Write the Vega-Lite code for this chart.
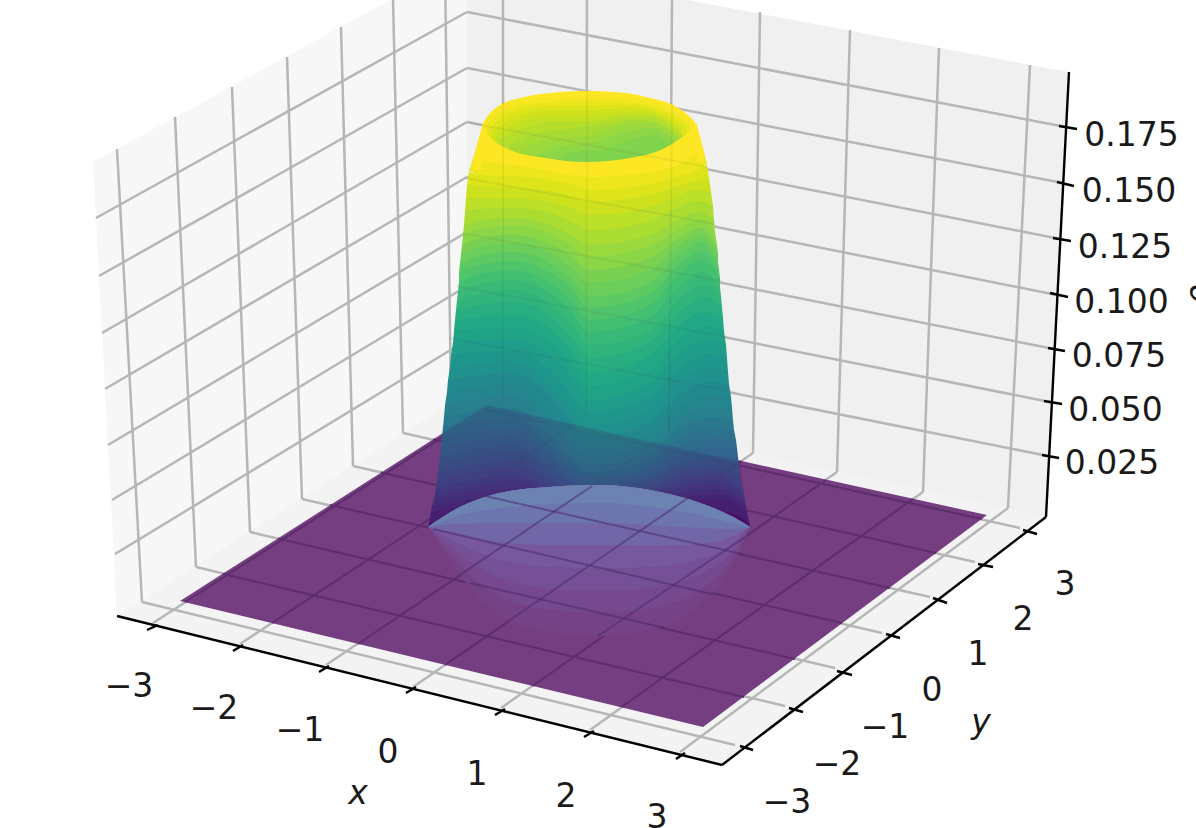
{"$schema":"https://vega.github.io/schema/vega-lite/v6.json","width":1196,"height":828,"padding":0,"autosize":{"type":"none"},"background":"#ffffff","view":{"stroke":null},
"datasets":{
"panes":[{"p":"left","x":93,"y":162,"b":162},{"p":"left","x":117,"y":149,"b":616},{"p":"left","x":467,"y":-42,"b":392},{"p":"right","x":467,"y":-42,"b":392},{"p":"right","x":1046,"y":68,"b":517},{"p":"right","x":1069,"y":72,"b":72},{"p":"floor","x":117,"y":616,"b":616},{"p":"floor","x":467,"y":392,"b":702},{"p":"floor","x":722,"y":447,"b":765},{"p":"floor","x":1046,"y":517,"b":517}],
"grid":[{"x":117,"y":149,"x2":142,"y2":602},{"x":175,"y":117,"x2":196,"y2":567},{"x":232,"y":87,"x2":250,"y2":532},{"x":287,"y":57,"x2":302,"y2":499},{"x":341,"y":27,"x2":353,"y2":466},{"x":393,"y":-1,"x2":403,"y2":433},{"x":445,"y":-30,"x2":451,"y2":402},{"x":503,"y":-36,"x2":503,"y2":398},{"x":587,"y":-20,"x2":586,"y2":416},{"x":672,"y":-4,"x2":669,"y2":434},{"x":760,"y":12,"x2":753,"y2":453},{"x":850,"y":30,"x2":837,"y2":472},{"x":939,"y":48,"x2":923,"y2":492},{"x":1030,"y":65,"x2":1008,"y2":508},{"x":96,"y":218,"x2":467,"y2":12},{"x":99,"y":276,"x2":467,"y2":68},{"x":102,"y":333,"x2":467,"y2":122},{"x":105,"y":389,"x2":467,"y2":177},{"x":108,"y":445,"x2":467,"y2":232},{"x":112,"y":500,"x2":467,"y2":286},{"x":115,"y":554,"x2":467,"y2":340},{"x":467,"y":12,"x2":1066,"y2":127},{"x":467,"y":68,"x2":1063,"y2":183},{"x":467,"y":122,"x2":1060,"y2":239},{"x":467,"y":177,"x2":1057,"y2":295},{"x":467,"y":232,"x2":1054,"y2":349},{"x":467,"y":286,"x2":1050,"y2":402},{"x":467,"y":340,"x2":1048,"y2":456},{"x":142,"y":602,"x2":735,"y2":745},{"x":196,"y":567,"x2":785,"y2":706},{"x":250,"y":532,"x2":835,"y2":668},{"x":302,"y":499,"x2":882,"y2":633},{"x":353,"y":466,"x2":930,"y2":597},{"x":403,"y":433,"x2":975,"y2":562},{"x":451,"y":402,"x2":1020,"y2":528},{"x":153,"y":623,"x2":503,"y2":398},{"x":240,"y":644,"x2":586,"y2":416},{"x":326,"y":665,"x2":669,"y2":434},{"x":413,"y":687,"x2":753,"y2":453},{"x":501,"y":708,"x2":837,"y2":472},{"x":590,"y":730,"x2":923,"y2":492},{"x":680,"y":752,"x2":1008,"y2":508}],
"sheet":[{"x":180,"y":601,"b":601},{"x":487,"y":405,"b":675},{"x":703,"y":452.5,"b":727},{"x":987,"y":515,"b":515}],
"sheetgrid":[{"x":223,"y":574,"x2":744,"y2":697},{"x":278,"y":538.5,"x2":795,"y2":659},{"x":330,"y":505,"x2":842,"y2":623},{"x":381,"y":472.5,"x2":890,"y2":588},{"x":433,"y":439.5,"x2":936,"y2":553},{"x":481,"y":408.6,"x2":982,"y2":519},{"x":185,"y":602,"x2":491,"y2":406},{"x":272,"y":623,"x2":574,"y2":424},{"x":358,"y":644,"x2":657,"y2":442.5},{"x":445,"y":665,"x2":741.5,"y2":461},{"x":532.5,"y":686,"x2":826,"y2":480},{"x":621.5,"y":707,"x2":913,"y2":499}],
"surface":[
{"z":0.19,"x":482,"y":125},{"z":0.19,"x":490,"y":113},{"z":0.19,"x":497,"y":107},{"z":0.19,"x":520,"y":98},{"z":0.19,"x":550,"y":93},{"z":0.19,"x":587,"y":91},{"z":0.19,"x":625,"y":93},{"z":0.19,"x":650,"y":98},{"z":0.19,"x":673,"y":105},{"z":0.19,"x":693,"y":120},{"z":0.19,"x":697,"y":125},
{"z":0.188,"x":484,"y":122},{"z":0.188,"x":505,"y":103},{"z":0.188,"x":550,"y":97},{"z":0.188,"x":587,"y":95},{"z":0.188,"x":630,"y":97},{"z":0.188,"x":660,"y":103},{"z":0.188,"x":692,"y":122},
{"z":0.1843,"x":486,"y":125},{"z":0.1843,"x":510,"y":108},{"z":0.1843,"x":550,"y":102},{"z":0.1843,"x":587,"y":100},{"z":0.1843,"x":630,"y":102},{"z":0.1843,"x":660,"y":108},{"z":0.1843,"x":690,"y":124},
{"z":0.1806,"x":489,"y":128},{"z":0.1806,"x":512,"y":112},{"z":0.1806,"x":550,"y":106},{"z":0.1806,"x":587,"y":105},{"z":0.1806,"x":630,"y":105},{"z":0.1806,"x":658,"y":110},{"z":0.1806,"x":686,"y":126},
{"z":0.1767,"x":492,"y":132},{"z":0.1767,"x":515,"y":117},{"z":0.1767,"x":550,"y":110},{"z":0.1767,"x":587,"y":110},{"z":0.1767,"x":630,"y":108},{"z":0.1767,"x":655,"y":112},{"z":0.1767,"x":682,"y":128},
{"z":0.1729,"x":496,"y":136},{"z":0.1729,"x":520,"y":122},{"z":0.1729,"x":552,"y":116},{"z":0.1729,"x":587,"y":116},{"z":0.1729,"x":628,"y":112},{"z":0.1729,"x":652,"y":114},{"z":0.1729,"x":678,"y":128},
{"z":0.1691,"x":500,"y":140},{"z":0.1691,"x":525,"y":128},{"z":0.1691,"x":555,"y":122},{"z":0.1691,"x":587,"y":122},{"z":0.1691,"x":625,"y":116},{"z":0.1691,"x":650,"y":116},{"z":0.1691,"x":675,"y":128},{"z":0.1691,"x":683,"y":136},
{"z":0.1653,"x":510,"y":145},{"z":0.1653,"x":535,"y":134},{"z":0.1653,"x":570,"y":129},{"z":0.1653,"x":604,"y":124},{"z":0.1653,"x":640,"y":119},{"z":0.1653,"x":660,"y":125},{"z":0.1653,"x":680,"y":138},
{"z":0.1617,"x":520,"y":150},{"z":0.1617,"x":545,"y":140},{"z":0.1617,"x":587,"y":136},{"z":0.1617,"x":620,"y":125},{"z":0.1617,"x":650,"y":122},{"z":0.1617,"x":670,"y":130},{"z":0.1617,"x":680,"y":140},
{"z":0.1577,"x":537,"y":155},{"z":0.1577,"x":560,"y":146},{"z":0.1577,"x":590,"y":143},{"z":0.1577,"x":625,"y":132},{"z":0.1577,"x":652,"y":128},{"z":0.1577,"x":670,"y":137},{"z":0.1577,"x":676,"y":143},
{"z":0.1539,"x":555,"y":160},{"z":0.1539,"x":575,"y":152},{"z":0.1539,"x":600,"y":150},{"z":0.1539,"x":630,"y":140},{"z":0.1539,"x":655,"y":135},{"z":0.1539,"x":670,"y":145},
{"z":0.1899,"x":482,"y":127},{"z":0.1899,"x":490,"y":137},{"z":0.1899,"x":510,"y":150},{"z":0.1899,"x":545,"y":158},{"z":0.1899,"x":587,"y":162},{"z":0.1899,"x":630,"y":158},{"z":0.1899,"x":665,"y":148},{"z":0.1899,"x":685,"y":135},{"z":0.1899,"x":697,"y":125},
{"z":0.1853,"x":473,"y":158},{"z":0.1853,"x":480,"y":160},{"z":0.1853,"x":513,"y":165},{"z":0.1853,"x":550,"y":171},{"z":0.1853,"x":570,"y":175},{"z":0.1853,"x":590,"y":177},{"z":0.1853,"x":650,"y":172},{"z":0.1853,"x":680,"y":164},{"z":0.1853,"x":690,"y":158},{"z":0.1853,"x":704,"y":152},
{"z":0.1805,"x":469,"y":172},{"z":0.1805,"x":480,"y":175},{"z":0.1805,"x":513,"y":176},{"z":0.1805,"x":550,"y":180},{"z":0.1805,"x":570,"y":184},{"z":0.1805,"x":590,"y":190},{"z":0.1805,"x":650,"y":184},{"z":0.1805,"x":680,"y":176},{"z":0.1805,"x":692,"y":172},{"z":0.1805,"x":707,"y":165},
{"z":0.1758,"x":467,"y":185},{"z":0.1758,"x":480,"y":186},{"z":0.1758,"x":513,"y":187},{"z":0.1758,"x":550,"y":191},{"z":0.1758,"x":570,"y":196},{"z":0.1758,"x":590,"y":202},{"z":0.1758,"x":650,"y":195},{"z":0.1758,"x":680,"y":185},{"z":0.1758,"x":694,"y":181},{"z":0.1758,"x":709,"y":178},
{"z":0.171,"x":466,"y":198},{"z":0.171,"x":480,"y":198},{"z":0.171,"x":513,"y":198},{"z":0.171,"x":550,"y":202},{"z":0.171,"x":570,"y":208},{"z":0.171,"x":590,"y":215},{"z":0.171,"x":650,"y":207},{"z":0.171,"x":680,"y":195},{"z":0.171,"x":696,"y":190},{"z":0.171,"x":711,"y":192},
{"z":0.1663,"x":465,"y":211},{"z":0.1663,"x":480,"y":209},{"z":0.1663,"x":513,"y":208},{"z":0.1663,"x":550,"y":213},{"z":0.1663,"x":570,"y":221},{"z":0.1663,"x":590,"y":230},{"z":0.1663,"x":650,"y":221},{"z":0.1663,"x":680,"y":207},{"z":0.1663,"x":698,"y":201},{"z":0.1663,"x":713,"y":206},
{"z":0.1615,"x":464,"y":225},{"z":0.1615,"x":480,"y":220},{"z":0.1615,"x":513,"y":218},{"z":0.1615,"x":550,"y":225},{"z":0.1615,"x":570,"y":234},{"z":0.1615,"x":590,"y":245},{"z":0.1615,"x":650,"y":235},{"z":0.1615,"x":680,"y":219},{"z":0.1615,"x":699,"y":212},{"z":0.1615,"x":714,"y":220},
{"z":0.1568,"x":463,"y":235},{"z":0.1568,"x":480,"y":229},{"z":0.1568,"x":513,"y":226},{"z":0.1568,"x":550,"y":234},{"z":0.1568,"x":570,"y":244},{"z":0.1568,"x":590,"y":257},{"z":0.1568,"x":650,"y":246},{"z":0.1568,"x":680,"y":228},{"z":0.1568,"x":700,"y":220},{"z":0.1568,"x":715,"y":232},
{"z":0.152,"x":462,"y":245},{"z":0.152,"x":480,"y":238},{"z":0.152,"x":513,"y":235},{"z":0.152,"x":550,"y":244},{"z":0.152,"x":570,"y":255},{"z":0.152,"x":590,"y":270},{"z":0.152,"x":650,"y":258},{"z":0.152,"x":680,"y":237},{"z":0.152,"x":701,"y":228},{"z":0.152,"x":717,"y":245},
{"z":0.1473,"x":461,"y":254},{"z":0.1473,"x":480,"y":247},{"z":0.1473,"x":513,"y":243},{"z":0.1473,"x":550,"y":253},{"z":0.1473,"x":570,"y":266},{"z":0.1473,"x":590,"y":283},{"z":0.1473,"x":650,"y":270},{"z":0.1473,"x":680,"y":245},{"z":0.1473,"x":701,"y":235},{"z":0.1473,"x":718,"y":253},
{"z":0.1425,"x":460,"y":263},{"z":0.1425,"x":480,"y":256},{"z":0.1425,"x":513,"y":252},{"z":0.1425,"x":550,"y":263},{"z":0.1425,"x":570,"y":278},{"z":0.1425,"x":590,"y":297},{"z":0.1425,"x":650,"y":283},{"z":0.1425,"x":680,"y":254},{"z":0.1425,"x":702,"y":242},{"z":0.1425,"x":718,"y":262},
{"z":0.1378,"x":459,"y":272},{"z":0.1378,"x":480,"y":265},{"z":0.1378,"x":513,"y":261},{"z":0.1378,"x":550,"y":273},{"z":0.1378,"x":570,"y":288},{"z":0.1378,"x":590,"y":308},{"z":0.1378,"x":650,"y":294},{"z":0.1378,"x":680,"y":263},{"z":0.1378,"x":702,"y":251},{"z":0.1378,"x":719,"y":270},
{"z":0.133,"x":459,"y":282},{"z":0.133,"x":480,"y":274},{"z":0.133,"x":513,"y":270},{"z":0.133,"x":550,"y":283},{"z":0.133,"x":570,"y":299},{"z":0.133,"x":590,"y":320},{"z":0.133,"x":650,"y":305},{"z":0.133,"x":680,"y":273},{"z":0.133,"x":703,"y":260},{"z":0.133,"x":720,"y":278},
{"z":0.1283,"x":458,"y":291},{"z":0.1283,"x":480,"y":284},{"z":0.1283,"x":513,"y":280},{"z":0.1283,"x":550,"y":293},{"z":0.1283,"x":570,"y":310},{"z":0.1283,"x":590,"y":332},{"z":0.1283,"x":650,"y":317},{"z":0.1283,"x":680,"y":286},{"z":0.1283,"x":703,"y":272},{"z":0.1283,"x":720,"y":287},
{"z":0.1235,"x":457,"y":300},{"z":0.1235,"x":480,"y":294},{"z":0.1235,"x":513,"y":290},{"z":0.1235,"x":550,"y":304},{"z":0.1235,"x":570,"y":322},{"z":0.1235,"x":590,"y":345},{"z":0.1235,"x":650,"y":330},{"z":0.1235,"x":680,"y":299},{"z":0.1235,"x":704,"y":285},{"z":0.1235,"x":721,"y":296},
{"z":0.1188,"x":456,"y":310},{"z":0.1188,"x":480,"y":305},{"z":0.1188,"x":513,"y":302},{"z":0.1188,"x":550,"y":316},{"z":0.1188,"x":570,"y":335},{"z":0.1188,"x":590,"y":358},{"z":0.1188,"x":650,"y":342},{"z":0.1188,"x":680,"y":312},{"z":0.1188,"x":705,"y":298},{"z":0.1188,"x":722,"y":307},
{"z":0.114,"x":455,"y":320},{"z":0.114,"x":480,"y":317},{"z":0.114,"x":513,"y":315},{"z":0.114,"x":550,"y":329},{"z":0.114,"x":570,"y":348},{"z":0.114,"x":590,"y":372},{"z":0.114,"x":650,"y":355},{"z":0.114,"x":680,"y":325},{"z":0.114,"x":706,"y":312},{"z":0.114,"x":723,"y":318},
{"z":0.1093,"x":454,"y":331},{"z":0.1093,"x":480,"y":329},{"z":0.1093,"x":513,"y":327},{"z":0.1093,"x":550,"y":342},{"z":0.1093,"x":570,"y":361},{"z":0.1093,"x":590,"y":386},{"z":0.1093,"x":650,"y":369},{"z":0.1093,"x":680,"y":339},{"z":0.1093,"x":707,"y":326},{"z":0.1093,"x":724,"y":331},
{"z":0.1045,"x":453,"y":343},{"z":0.1045,"x":480,"y":341},{"z":0.1045,"x":513,"y":340},{"z":0.1045,"x":550,"y":355},{"z":0.1045,"x":570,"y":375},{"z":0.1045,"x":590,"y":400},{"z":0.1045,"x":650,"y":383},{"z":0.1045,"x":680,"y":353},{"z":0.1045,"x":708,"y":340},{"z":0.1045,"x":726,"y":345},
{"z":0.0998,"x":451,"y":355},{"z":0.0998,"x":480,"y":352},{"z":0.0998,"x":513,"y":351},{"z":0.0998,"x":550,"y":370},{"z":0.0998,"x":570,"y":392},{"z":0.0998,"x":590,"y":412},{"z":0.0998,"x":650,"y":396},{"z":0.0998,"x":680,"y":367},{"z":0.0998,"x":709,"y":354},{"z":0.0998,"x":727,"y":358},
{"z":0.095,"x":450,"y":367},{"z":0.095,"x":480,"y":364},{"z":0.095,"x":513,"y":362},{"z":0.095,"x":550,"y":385},{"z":0.095,"x":570,"y":408},{"z":0.095,"x":590,"y":425},{"z":0.095,"x":650,"y":410},{"z":0.095,"x":680,"y":381},{"z":0.095,"x":710,"y":368},{"z":0.095,"x":728,"y":372},
{"z":0.0903,"x":448,"y":380},{"z":0.0903,"x":480,"y":375},{"z":0.0903,"x":513,"y":373},{"z":0.0903,"x":550,"y":396},{"z":0.0903,"x":570,"y":420},{"z":0.0903,"x":590,"y":437},{"z":0.0903,"x":650,"y":422},{"z":0.0903,"x":680,"y":394},{"z":0.0903,"x":710,"y":382},{"z":0.0903,"x":729,"y":384},
{"z":0.0855,"x":447,"y":392},{"z":0.0855,"x":480,"y":387},{"z":0.0855,"x":513,"y":385},{"z":0.0855,"x":550,"y":416},{"z":0.0855,"x":570,"y":435},{"z":0.0855,"x":590,"y":448},{"z":0.0855,"x":650,"y":434},{"z":0.0855,"x":680,"y":407},{"z":0.0855,"x":711,"y":396},{"z":0.0855,"x":731,"y":397},
{"z":0.0808,"x":445,"y":405},{"z":0.0808,"x":480,"y":399},{"z":0.0808,"x":513,"y":396},{"z":0.0808,"x":550,"y":426},{"z":0.0808,"x":570,"y":445},{"z":0.0808,"x":590,"y":457},{"z":0.0808,"x":650,"y":443},{"z":0.0808,"x":680,"y":417},{"z":0.0808,"x":712,"y":407},{"z":0.0808,"x":732,"y":408},
{"z":0.076,"x":444,"y":417},{"z":0.076,"x":480,"y":411},{"z":0.076,"x":513,"y":408},{"z":0.076,"x":550,"y":436},{"z":0.076,"x":570,"y":454},{"z":0.076,"x":590,"y":465},{"z":0.076,"x":650,"y":452},{"z":0.076,"x":680,"y":428},{"z":0.076,"x":713,"y":418},{"z":0.076,"x":733,"y":420},
{"z":0.0713,"x":443,"y":427},{"z":0.0713,"x":480,"y":421},{"z":0.0713,"x":513,"y":418},{"z":0.0713,"x":550,"y":445},{"z":0.0713,"x":570,"y":461},{"z":0.0713,"x":590,"y":472},{"z":0.0713,"x":650,"y":459},{"z":0.0713,"x":680,"y":437},{"z":0.0713,"x":713,"y":428},{"z":0.0713,"x":734,"y":430},
{"z":0.0665,"x":442,"y":437},{"z":0.0665,"x":480,"y":431},{"z":0.0665,"x":513,"y":428},{"z":0.0665,"x":550,"y":453},{"z":0.0665,"x":570,"y":468},{"z":0.0665,"x":590,"y":478},{"z":0.0665,"x":650,"y":466},{"z":0.0665,"x":680,"y":446},{"z":0.0665,"x":714,"y":438},{"z":0.0665,"x":736,"y":440},
{"z":0.0618,"x":441,"y":447},{"z":0.0618,"x":480,"y":440},{"z":0.0618,"x":513,"y":436},{"z":0.0618,"x":550,"y":459},{"z":0.0618,"x":570,"y":474},{"z":0.0618,"x":590,"y":483},{"z":0.0618,"x":650,"y":471},{"z":0.0618,"x":680,"y":454},{"z":0.0618,"x":715,"y":447},{"z":0.0618,"x":737,"y":448},
{"z":0.057,"x":440,"y":457},{"z":0.057,"x":480,"y":449},{"z":0.057,"x":513,"y":445},{"z":0.057,"x":550,"y":466},{"z":0.057,"x":570,"y":479},{"z":0.057,"x":590,"y":488},{"z":0.057,"x":650,"y":477},{"z":0.057,"x":680,"y":462},{"z":0.057,"x":716,"y":456},{"z":0.057,"x":738,"y":457},
{"z":0.0523,"x":439,"y":465},{"z":0.0523,"x":480,"y":456},{"z":0.0523,"x":513,"y":452},{"z":0.0523,"x":550,"y":472},{"z":0.0523,"x":570,"y":484},{"z":0.0523,"x":590,"y":492},{"z":0.0523,"x":650,"y":481},{"z":0.0523,"x":680,"y":467},{"z":0.0523,"x":716,"y":462},{"z":0.0523,"x":739,"y":465},
{"z":0.0475,"x":438,"y":472},{"z":0.0475,"x":480,"y":464},{"z":0.0475,"x":513,"y":460},{"z":0.0475,"x":550,"y":478},{"z":0.0475,"x":570,"y":490},{"z":0.0475,"x":590,"y":497},{"z":0.0475,"x":650,"y":486},{"z":0.0475,"x":680,"y":473},{"z":0.0475,"x":717,"y":468},{"z":0.0475,"x":740,"y":474},
{"z":0.0428,"x":437,"y":480},{"z":0.0428,"x":480,"y":471},{"z":0.0428,"x":513,"y":467},{"z":0.0428,"x":550,"y":484},{"z":0.0428,"x":570,"y":494},{"z":0.0428,"x":590,"y":501},{"z":0.0428,"x":650,"y":490},{"z":0.0428,"x":680,"y":478},{"z":0.0428,"x":717,"y":473},{"z":0.0428,"x":741,"y":482},
{"z":0.038,"x":436,"y":487},{"z":0.038,"x":480,"y":479},{"z":0.038,"x":513,"y":475},{"z":0.038,"x":550,"y":490},{"z":0.038,"x":570,"y":499},{"z":0.038,"x":590,"y":505},{"z":0.038,"x":650,"y":494},{"z":0.038,"x":680,"y":483},{"z":0.038,"x":718,"y":478},{"z":0.038,"x":743,"y":490},
{"z":0.0333,"x":435,"y":494},{"z":0.0333,"x":480,"y":485},{"z":0.0333,"x":513,"y":481},{"z":0.0333,"x":550,"y":494},{"z":0.0333,"x":570,"y":503},{"z":0.0333,"x":590,"y":508},{"z":0.0333,"x":650,"y":498},{"z":0.0333,"x":680,"y":488},{"z":0.0333,"x":719,"y":483},{"z":0.0333,"x":744,"y":496},
{"z":0.0285,"x":434,"y":500},{"z":0.0285,"x":480,"y":492},{"z":0.0285,"x":513,"y":488},{"z":0.0285,"x":550,"y":500},{"z":0.0285,"x":570,"y":507},{"z":0.0285,"x":590,"y":512},{"z":0.0285,"x":650,"y":503},{"z":0.0285,"x":680,"y":493},{"z":0.0285,"x":720,"y":489},{"z":0.0285,"x":745,"y":502},
{"z":0.0238,"x":432,"y":506},{"z":0.0238,"x":480,"y":498},{"z":0.0238,"x":513,"y":494},{"z":0.0238,"x":550,"y":499},{"z":0.0238,"x":570,"y":506},{"z":0.0238,"x":590,"y":515},{"z":0.0238,"x":650,"y":507},{"z":0.0238,"x":680,"y":498},{"z":0.0238,"x":721,"y":494},{"z":0.0238,"x":746,"y":507},
{"z":0.019,"x":431,"y":512},{"z":0.019,"x":480,"y":504},{"z":0.019,"x":513,"y":500},{"z":0.019,"x":550,"y":505},{"z":0.019,"x":570,"y":511},{"z":0.019,"x":590,"y":519},{"z":0.019,"x":650,"y":512},{"z":0.019,"x":680,"y":503},{"z":0.019,"x":722,"y":499},{"z":0.019,"x":747,"y":512},
{"z":0.0095,"x":429,"y":523},{"z":0.0095,"x":480,"y":518},{"z":0.0095,"x":513,"y":515},{"z":0.0095,"x":550,"y":518},{"z":0.0095,"x":570,"y":521},{"z":0.0095,"x":590,"y":525},{"z":0.0095,"x":650,"y":522},{"z":0.0095,"x":680,"y":515},{"z":0.0095,"x":724,"y":512},{"z":0.0095,"x":749,"y":522}],
"edge":[
{"z":0.1899,"s":0,"x":473,"y":158,"b":170},{"z":0.1899,"s":0,"x":482,"y":127,"b":170},{"z":0.1899,"s":1,"x":697,"y":125,"b":162},{"z":0.1899,"s":1,"x":704,"y":152,"b":162},
{"z":0.1853,"s":0,"x":469,"y":172,"b":172},{"z":0.1853,"s":0,"x":473,"y":158,"b":172},{"z":0.1853,"s":1,"x":704,"y":152,"b":165},{"z":0.1853,"s":1,"x":707,"y":165,"b":165},
{"z":0.1805,"s":0,"x":467,"y":185,"b":185},{"z":0.1805,"s":0,"x":469,"y":172,"b":185},{"z":0.1805,"s":1,"x":707,"y":165,"b":178},{"z":0.1805,"s":1,"x":709,"y":178,"b":178},
{"z":0.1758,"s":0,"x":466,"y":198,"b":198},{"z":0.1758,"s":0,"x":467,"y":185,"b":198},{"z":0.1758,"s":1,"x":709,"y":178,"b":192},{"z":0.1758,"s":1,"x":711,"y":192,"b":192},
{"z":0.171,"s":0,"x":465,"y":211,"b":211},{"z":0.171,"s":0,"x":466,"y":198,"b":211},{"z":0.171,"s":1,"x":711,"y":192,"b":206},{"z":0.171,"s":1,"x":713,"y":206,"b":206},
{"z":0.1663,"s":0,"x":464,"y":225,"b":225},{"z":0.1663,"s":0,"x":465,"y":211,"b":225},{"z":0.1663,"s":1,"x":713,"y":206,"b":220},{"z":0.1663,"s":1,"x":714,"y":220,"b":220},
{"z":0.1615,"s":0,"x":463,"y":235,"b":235},{"z":0.1615,"s":0,"x":464,"y":225,"b":235},{"z":0.1615,"s":1,"x":714,"y":220,"b":232},{"z":0.1615,"s":1,"x":715,"y":232,"b":232},
{"z":0.1568,"s":0,"x":462,"y":245,"b":245},{"z":0.1568,"s":0,"x":463,"y":235,"b":245},{"z":0.1568,"s":1,"x":715,"y":232,"b":245},{"z":0.1568,"s":1,"x":717,"y":245,"b":245},
{"z":0.152,"s":0,"x":461,"y":254,"b":254},{"z":0.152,"s":0,"x":462,"y":245,"b":254},{"z":0.152,"s":1,"x":717,"y":245,"b":253},{"z":0.152,"s":1,"x":718,"y":253,"b":253},
{"z":0.1473,"s":0,"x":460,"y":263,"b":263},{"z":0.1473,"s":0,"x":461,"y":254,"b":263},
{"z":0.1425,"s":0,"x":459,"y":272,"b":282},{"z":0.1425,"s":0,"x":460,"y":263,"b":282},{"z":0.1425,"s":1,"x":718,"y":262,"b":270},{"z":0.1425,"s":1,"x":719,"y":270,"b":270},
{"z":0.133,"s":0,"x":458,"y":291,"b":291},{"z":0.133,"s":0,"x":459,"y":282,"b":291},{"z":0.1378,"s":1,"x":719,"y":270,"b":278},{"z":0.1378,"s":1,"x":720,"y":278,"b":278},
{"z":0.1283,"s":0,"x":457,"y":300,"b":300},{"z":0.1283,"s":0,"x":458,"y":291,"b":300},{"z":0.1283,"s":1,"x":720,"y":287,"b":296},{"z":0.1283,"s":1,"x":721,"y":296,"b":296},
{"z":0.1235,"s":0,"x":456,"y":310,"b":310},{"z":0.1235,"s":0,"x":457,"y":300,"b":310},{"z":0.1235,"s":1,"x":721,"y":296,"b":307},{"z":0.1235,"s":1,"x":722,"y":307,"b":307},
{"z":0.1188,"s":0,"x":455,"y":320,"b":320},{"z":0.1188,"s":0,"x":456,"y":310,"b":320},{"z":0.1188,"s":1,"x":722,"y":307,"b":318},{"z":0.1188,"s":1,"x":723,"y":318,"b":318},
{"z":0.114,"s":0,"x":454,"y":331,"b":331},{"z":0.114,"s":0,"x":455,"y":320,"b":331},{"z":0.114,"s":1,"x":723,"y":318,"b":331},{"z":0.114,"s":1,"x":724,"y":331,"b":331},
{"z":0.1093,"s":0,"x":453,"y":343,"b":343},{"z":0.1093,"s":0,"x":454,"y":331,"b":343},{"z":0.1093,"s":1,"x":724,"y":331,"b":345},{"z":0.1093,"s":1,"x":726,"y":345,"b":345},
{"z":0.1045,"s":0,"x":451,"y":355,"b":355},{"z":0.1045,"s":0,"x":453,"y":343,"b":355},{"z":0.1045,"s":1,"x":726,"y":345,"b":358},{"z":0.1045,"s":1,"x":727,"y":358,"b":358},
{"z":0.0998,"s":0,"x":450,"y":367,"b":367},{"z":0.0998,"s":0,"x":451,"y":355,"b":367},{"z":0.0998,"s":1,"x":727,"y":358,"b":372},{"z":0.0998,"s":1,"x":728,"y":372,"b":372},
{"z":0.095,"s":0,"x":448,"y":380,"b":380},{"z":0.095,"s":0,"x":450,"y":367,"b":380},{"z":0.095,"s":1,"x":728,"y":372,"b":384},{"z":0.095,"s":1,"x":729,"y":384,"b":384},
{"z":0.0903,"s":0,"x":447,"y":392,"b":392},{"z":0.0903,"s":0,"x":448,"y":380,"b":392},{"z":0.0903,"s":1,"x":729,"y":384,"b":397},{"z":0.0903,"s":1,"x":731,"y":397,"b":397},
{"z":0.0855,"s":0,"x":445,"y":405,"b":405},{"z":0.0855,"s":0,"x":447,"y":392,"b":405},{"z":0.0855,"s":1,"x":731,"y":397,"b":408},{"z":0.0855,"s":1,"x":732,"y":408,"b":408},
{"z":0.0808,"s":0,"x":444,"y":417,"b":417},{"z":0.0808,"s":0,"x":445,"y":405,"b":417},{"z":0.0808,"s":1,"x":732,"y":408,"b":420},{"z":0.0808,"s":1,"x":733,"y":420,"b":420},
{"z":0.076,"s":0,"x":443,"y":427,"b":427},{"z":0.076,"s":0,"x":444,"y":417,"b":427},{"z":0.076,"s":1,"x":733,"y":420,"b":430},{"z":0.076,"s":1,"x":734,"y":430,"b":430},
{"z":0.0713,"s":0,"x":442,"y":437,"b":437},{"z":0.0713,"s":0,"x":443,"y":427,"b":437},{"z":0.0713,"s":1,"x":734,"y":430,"b":440},{"z":0.0713,"s":1,"x":736,"y":440,"b":440},
{"z":0.0665,"s":0,"x":441,"y":447,"b":447},{"z":0.0665,"s":0,"x":442,"y":437,"b":447},{"z":0.0665,"s":1,"x":736,"y":440,"b":448},{"z":0.0665,"s":1,"x":737,"y":448,"b":448},
{"z":0.0618,"s":0,"x":440,"y":457,"b":457},{"z":0.0618,"s":0,"x":441,"y":447,"b":457},{"z":0.0618,"s":1,"x":737,"y":448,"b":457},{"z":0.0618,"s":1,"x":738,"y":457,"b":457},
{"z":0.057,"s":0,"x":439,"y":465,"b":465},{"z":0.057,"s":0,"x":440,"y":457,"b":465},{"z":0.057,"s":1,"x":738,"y":457,"b":465},{"z":0.057,"s":1,"x":739,"y":465,"b":465},
{"z":0.0523,"s":0,"x":438,"y":472,"b":472},{"z":0.0523,"s":0,"x":439,"y":465,"b":472},{"z":0.0523,"s":1,"x":739,"y":465,"b":474},{"z":0.0523,"s":1,"x":740,"y":474,"b":474},
{"z":0.0475,"s":0,"x":437,"y":480,"b":480},{"z":0.0475,"s":0,"x":438,"y":472,"b":480},{"z":0.0475,"s":1,"x":740,"y":474,"b":482},{"z":0.0475,"s":1,"x":741,"y":482,"b":482},
{"z":0.0428,"s":0,"x":436,"y":487,"b":487},{"z":0.0428,"s":0,"x":437,"y":480,"b":487},{"z":0.0428,"s":1,"x":741,"y":482,"b":490},{"z":0.0428,"s":1,"x":743,"y":490,"b":490},
{"z":0.038,"s":0,"x":435,"y":494,"b":494},{"z":0.038,"s":0,"x":436,"y":487,"b":494},{"z":0.038,"s":1,"x":743,"y":490,"b":496},{"z":0.038,"s":1,"x":744,"y":496,"b":496},
{"z":0.0333,"s":0,"x":434,"y":500,"b":500},{"z":0.0333,"s":0,"x":435,"y":494,"b":500},{"z":0.0333,"s":1,"x":744,"y":496,"b":502},{"z":0.0333,"s":1,"x":745,"y":502,"b":502},
{"z":0.0285,"s":0,"x":432,"y":506,"b":506},{"z":0.0285,"s":0,"x":434,"y":500,"b":506},{"z":0.0285,"s":1,"x":745,"y":502,"b":507},{"z":0.0285,"s":1,"x":746,"y":507,"b":507},
{"z":0.0238,"s":0,"x":431,"y":512,"b":512},{"z":0.0238,"s":0,"x":432,"y":506,"b":512},{"z":0.0238,"s":1,"x":746,"y":507,"b":512},{"z":0.0238,"s":1,"x":747,"y":512,"b":512},
{"z":0.019,"s":0,"x":429,"y":523,"b":523},{"z":0.019,"s":0,"x":431,"y":512,"b":523},{"z":0.019,"s":1,"x":747,"y":512,"b":522},{"z":0.019,"s":1,"x":749,"y":522,"b":522},
{"z":0.0095,"s":0,"x":428,"y":527,"b":527},{"z":0.0095,"s":0,"x":429,"y":523,"b":527},{"z":0.0095,"s":1,"x":749,"y":522,"b":527},{"z":0.0095,"s":1,"x":750,"y":527,"b":527}],
"behind":[{"x":428,"y":527},{"x":436,"y":487},{"x":440,"y":457},{"x":443,"y":433},{"x":487,"y":405},{"x":740,"y":462},{"x":745,"y":498},{"x":750,"y":527}],
"through":[{"x":470,"y":123,"x2":707,"y2":167},{"x":465,"y":178,"x2":715,"y2":224},{"x":462,"y":233,"x2":722,"y2":281},{"x":456,"y":286,"x2":727,"y2":337},{"x":449,"y":338,"x2":735,"y2":392},{"x":503,"y":102,"x2":503,"y2":398},{"x":587,"y":91,"x2":586,"y2":416},{"x":672,"y":105,"x2":669,"y2":434},{"x":433,"y":439.5,"x2":740,"y2":508},{"x":481,"y":408.6,"x2":740,"y2":466},{"x":574,"y":424,"x2":436,"y2":515},{"x":657,"y":442.5,"x2":592,"y2":486},{"x":741,"y":461,"x2":688,"y2":498}],
"base":[
{"v":0.08,"x":428,"y":527,"b":527},{"v":0.08,"x":460,"y":507,"b":575},{"v":0.08,"x":500,"y":493,"b":615},{"v":0.08,"x":550,"y":487,"b":632},{"v":0.08,"x":600,"y":485,"b":636},{"v":0.08,"x":650,"y":490,"b":630},{"v":0.08,"x":700,"y":503,"b":605},{"v":0.08,"x":733,"y":517,"b":565},{"v":0.08,"x":750,"y":527,"b":527},
{"v":0.2,"x":428,"y":527,"b":527},{"v":0.2,"x":460,"y":507,"b":565},{"v":0.2,"x":500,"y":493,"b":597},{"v":0.2,"x":550,"y":487,"b":610},{"v":0.2,"x":600,"y":485,"b":613},{"v":0.2,"x":650,"y":490,"b":609},{"v":0.2,"x":700,"y":503,"b":590},{"v":0.2,"x":733,"y":517,"b":558},{"v":0.2,"x":750,"y":527,"b":527},
{"v":0.35,"x":428,"y":527,"b":527},{"v":0.35,"x":460,"y":507,"b":555},{"v":0.35,"x":500,"y":493,"b":578},{"v":0.35,"x":550,"y":487,"b":589},{"v":0.35,"x":600,"y":485,"b":591},{"v":0.35,"x":650,"y":490,"b":588},{"v":0.35,"x":700,"y":503,"b":574},{"v":0.35,"x":733,"y":517,"b":551},{"v":0.35,"x":750,"y":527,"b":527},
{"v":0.5,"x":428,"y":527,"b":527},{"v":0.5,"x":460,"y":507,"b":544},{"v":0.5,"x":500,"y":493,"b":560},{"v":0.5,"x":550,"y":487,"b":567},{"v":0.5,"x":600,"y":485,"b":568},{"v":0.5,"x":650,"y":490,"b":567},{"v":0.5,"x":700,"y":503,"b":559},{"v":0.5,"x":733,"y":517,"b":543},{"v":0.5,"x":750,"y":527,"b":527},
{"v":0.65,"x":428,"y":527,"b":527},{"v":0.65,"x":460,"y":507,"b":534},{"v":0.65,"x":500,"y":493,"b":542},{"v":0.65,"x":550,"y":487,"b":545},{"v":0.65,"x":600,"y":485,"b":545},{"v":0.65,"x":650,"y":490,"b":546},{"v":0.65,"x":700,"y":503,"b":544},{"v":0.65,"x":733,"y":517,"b":536},{"v":0.65,"x":750,"y":527,"b":527},
{"v":0.82,"x":428,"y":527,"b":527},{"v":0.82,"x":460,"y":507,"b":524},{"v":0.82,"x":500,"y":493,"b":523},{"v":0.82,"x":550,"y":487,"b":523},{"v":0.82,"x":600,"y":485,"b":523},{"v":0.82,"x":650,"y":490,"b":525},{"v":0.82,"x":700,"y":503,"b":528},{"v":0.82,"x":733,"y":517,"b":529},{"v":0.82,"x":750,"y":527,"b":527},
{"v":1,"x":428,"y":527,"b":527},{"v":1,"x":460,"y":507,"b":515},{"v":1,"x":500,"y":493,"b":508},{"v":1,"x":550,"y":487,"b":504},{"v":1,"x":600,"y":485,"b":503},{"v":1,"x":650,"y":490,"b":507},{"v":1,"x":700,"y":503,"b":515},{"v":1,"x":733,"y":517,"b":523},{"v":1,"x":750,"y":527,"b":527}],
"basegrid":[{"x":433,"y":529,"x2":712,"y2":594},{"x":485,"y":496,"x2":742,"y2":554},{"x":470,"y":583,"x2":665,"y2":628},{"x":460,"y":575,"x2":592,"y2":486},{"x":510,"y":620,"x2":688,"y2":498},{"x":598,"y":636,"x2":745,"y2":537}],
"axes":[{"x":117,"y":616,"x2":722,"y2":765},{"x":722,"y":765,"x2":1046,"y2":517},{"x":1069,"y":72,"x2":1046,"y2":517},{"x":147,"y":630,"x2":158,"y2":625},{"x":233,"y":651,"x2":243,"y2":645},{"x":319,"y":672,"x2":329,"y2":666},{"x":406,"y":693,"x2":416,"y2":687},{"x":495,"y":715,"x2":505,"y2":709},{"x":584,"y":737,"x2":594,"y2":731},{"x":676,"y":759,"x2":685,"y2":753},{"x":740,"y":746,"x2":753,"y2":750},{"x":789,"y":708,"x2":803,"y2":712},{"x":837,"y":671,"x2":852,"y2":675},{"x":886,"y":634,"x2":900,"y2":638},{"x":933,"y":598,"x2":947,"y2":603},{"x":978,"y":564,"x2":993,"y2":567},{"x":1023,"y":530,"x2":1037,"y2":534},{"x":1059,"y":126,"x2":1077,"y2":129},{"x":1057,"y":182,"x2":1074,"y2":186},{"x":1053,"y":238,"x2":1071,"y2":241},{"x":1050,"y":293,"x2":1068,"y2":297},{"x":1048,"y":348,"x2":1065,"y2":351},{"x":1044,"y":401,"x2":1062,"y2":404},{"x":1042,"y":455,"x2":1059,"y2":458}],
"labels":[{"t":"0.175","x":1131.5,"y":136},{"t":"0.150","x":1129,"y":192},{"t":"0.125","x":1125,"y":248},{"t":"0.100","x":1121.5,"y":303},{"t":"0.075","x":1119,"y":357},{"t":"0.050","x":1115.5,"y":411},{"t":"0.025","x":1112,"y":464},{"t":"−3","x":129,"y":687},{"t":"−2","x":214,"y":709},{"t":"−1","x":300,"y":731},{"t":"0","x":388,"y":753},{"t":"1","x":477,"y":775},{"t":"2","x":566,"y":797},{"t":"3","x":657,"y":818},{"t":"3","x":1065,"y":585},{"t":"2","x":1023,"y":620},{"t":"1","x":978,"y":655},{"t":"0","x":932,"y":691},{"t":"−1","x":885,"y":728},{"t":"−2","x":837,"y":765},{"t":"−3","x":787,"y":803}],
"titles":[{"t":"x","x":358,"y":794},{"t":"y","x":981,"y":723}],
"ztitle":[{"t":"ρ","x":1199,"y":295}]
},
"encoding":{"x":{"field":"x","type":"quantitative","axis":null,"scale":{"domain":[0,1196],"nice":false,"zero":false}},"y":{"field":"y","type":"quantitative","axis":null,"scale":{"domain":[828,0],"nice":false,"zero":false}}},
"resolve":{"scale":{"color":"independent"}},
"layer":[
{"data":{"name":"panes"},"mark":{"type":"area","interpolate":"linear"},"encoding":{"y2":{"field":"b"},"color":{"field":"p","type":"nominal","legend":null,"scale":{"domain":["left","right","floor"],"range":["#f7f7f7","#f0f0f0","#f3f3f3"]}}}},
{"data":{"name":"grid"},"mark":{"type":"rule","color":"#b6b6b6","strokeWidth":2.5},"encoding":{"x2":{"field":"x2"},"y2":{"field":"y2"}}},
{"data":{"name":"sheet"},"mark":{"type":"area","interpolate":"linear","color":"#743e81"},"encoding":{"y2":{"field":"b"}}},
{"data":{"name":"sheetgrid"},"mark":{"type":"rule","color":"#5e2d6b","strokeWidth":2},"encoding":{"x2":{"field":"x2"},"y2":{"field":"y2"}}},
{"data":{"name":"surface"},"mark":{"type":"area","interpolate":"monotone"},"encoding":{"y2":{"datum":527},"detail":{"field":"z","type":"nominal"},"color":{"field":"z","type":"quantitative","legend":null,"scale":{"scheme":"viridis","domain":[0,0.19]}}}},
{"data":{"name":"edge"},"mark":{"type":"area","interpolate":"linear"},"encoding":{"y2":{"field":"b"},"detail":[{"field":"z","type":"nominal"},{"field":"s","type":"nominal"}],"color":{"field":"z","type":"quantitative","legend":null,"scale":{"scheme":"viridis","domain":[0,0.19]}}}},
{"data":{"name":"behind"},"mark":{"type":"area","interpolate":"linear","color":"#440154","opacity":0.16},"encoding":{"y2":{"datum":527}}},
{"data":{"name":"through"},"mark":{"type":"rule","color":"#3a3a3a","strokeWidth":2,"opacity":0.07},"encoding":{"x2":{"field":"x2"},"y2":{"field":"y2"}}},
{"data":{"name":"base"},"mark":{"type":"area","interpolate":"monotone"},"encoding":{"y2":{"field":"b"},"detail":{"field":"v","type":"nominal"},"color":{"field":"v","type":"quantitative","legend":null,"scale":{"domain":[0,0.5,1],"range":["#743e81","#77589e","#6c83b2"]}}}},
{"data":{"name":"basegrid"},"mark":{"type":"rule","color":"#4a2a70","strokeWidth":2,"opacity":0.55},"encoding":{"x2":{"field":"x2"},"y2":{"field":"y2"}}},
{"data":{"name":"axes"},"mark":{"type":"rule","color":"#000000","strokeWidth":2.4},"encoding":{"x2":{"field":"x2"},"y2":{"field":"y2"}}},
{"data":{"name":"labels"},"mark":{"type":"text","font":"DejaVu Sans","fontSize":33,"color":"#1a1a1a","align":"center","baseline":"middle"},"encoding":{"text":{"field":"t"}}},
{"data":{"name":"titles"},"mark":{"type":"text","font":"DejaVu Sans","fontStyle":"italic","fontSize":33,"color":"#1a1a1a","align":"center","baseline":"middle"},"encoding":{"text":{"field":"t"}}},
{"data":{"name":"ztitle"},"mark":{"type":"text","font":"DejaVu Sans","fontStyle":"italic","fontSize":33,"color":"#1a1a1a","align":"center","baseline":"middle","angle":270},"encoding":{"text":{"field":"t"}}}
]}
